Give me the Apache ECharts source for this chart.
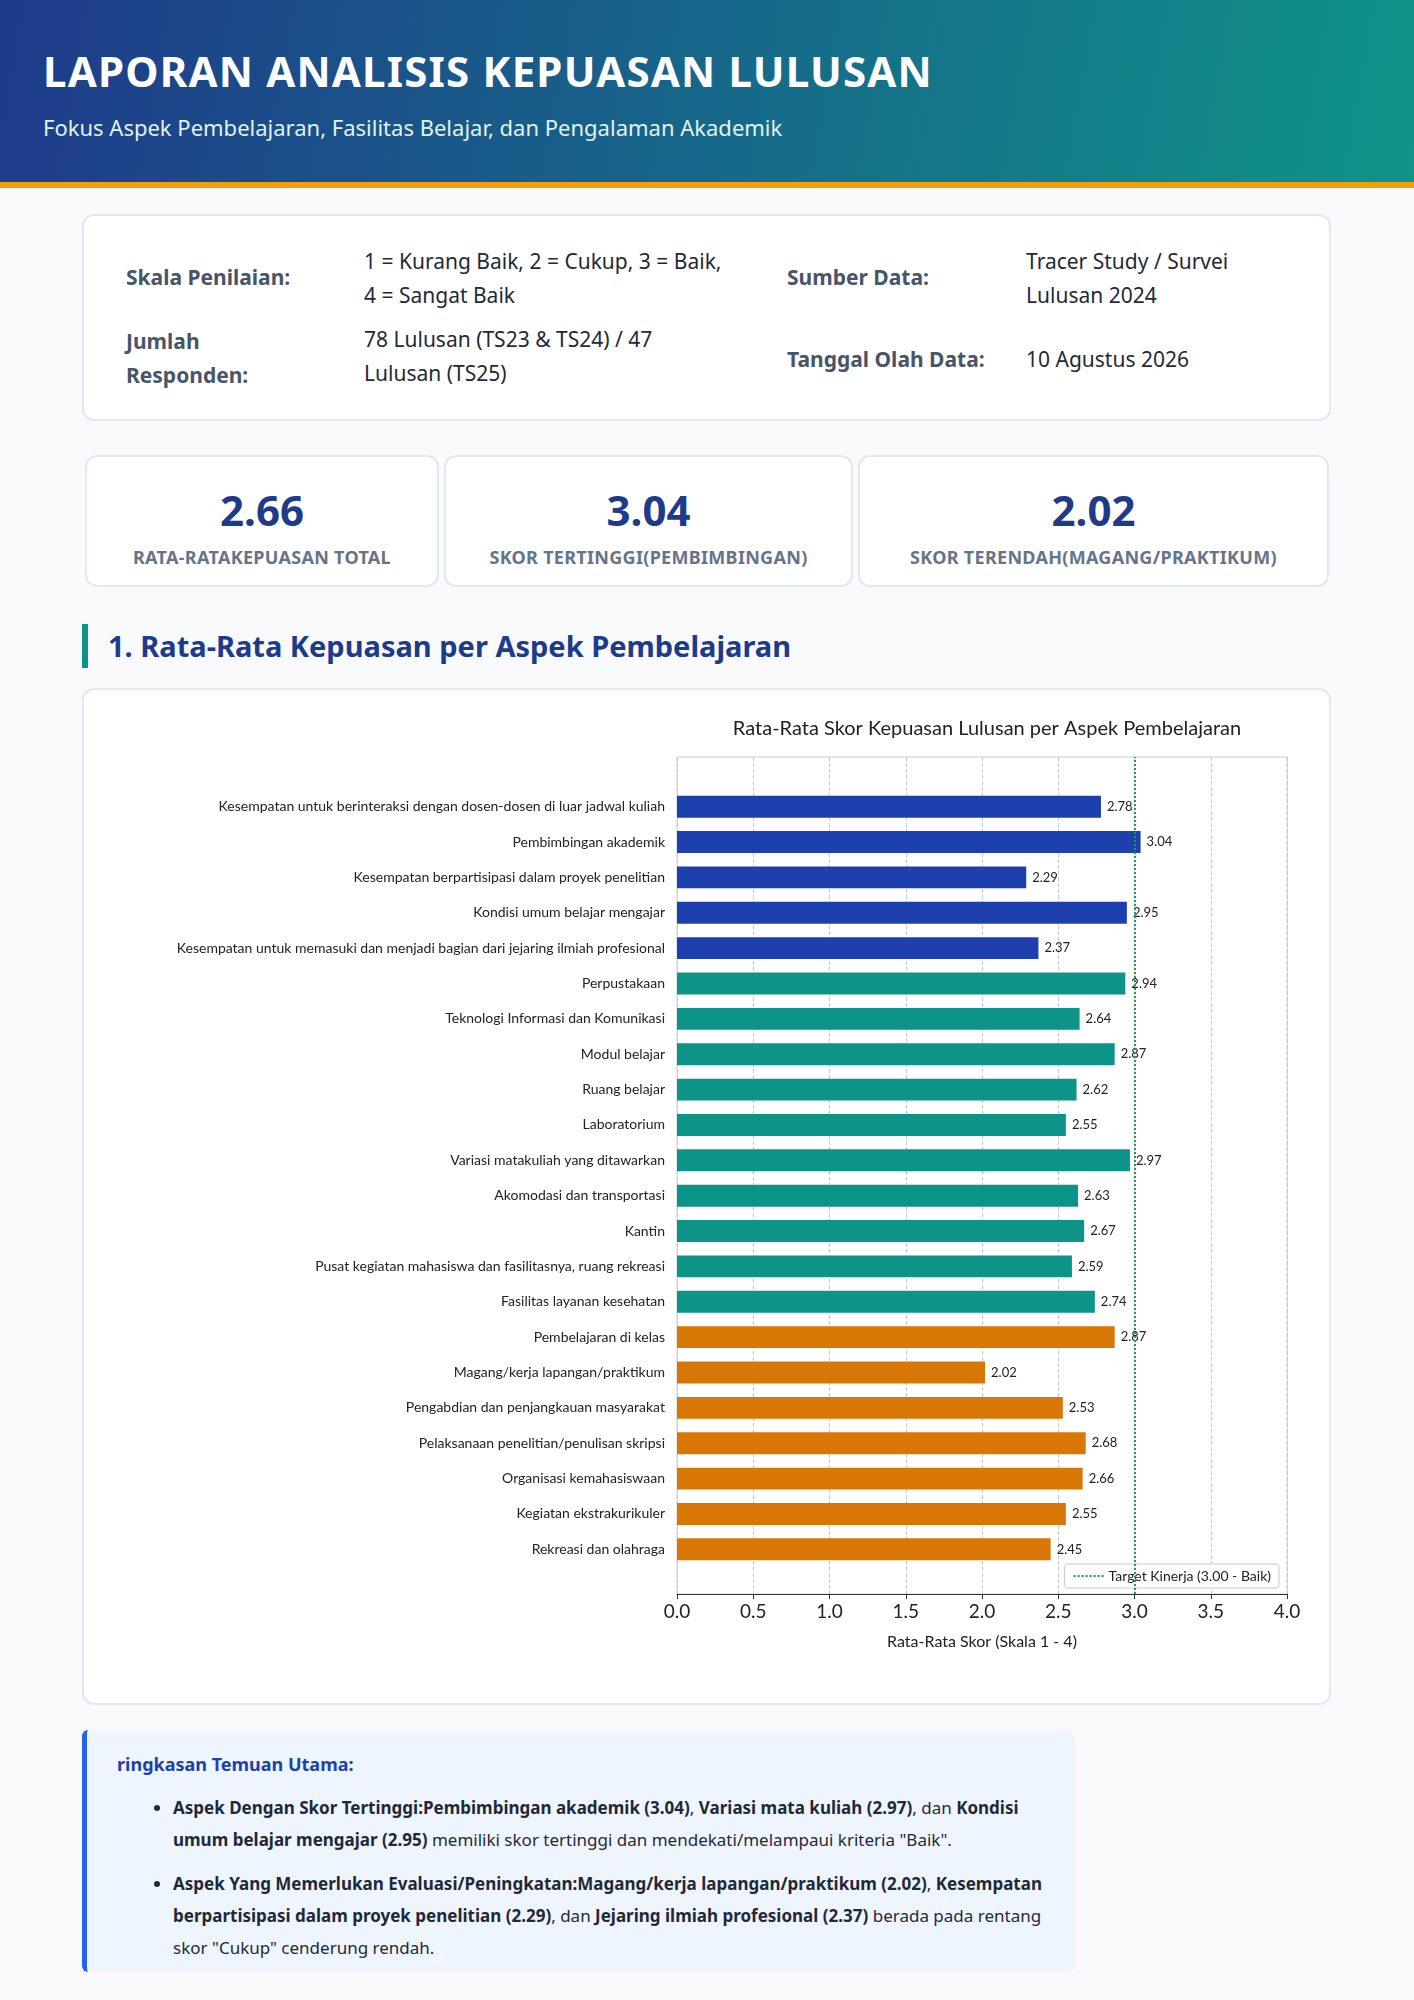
<!DOCTYPE html>
<html><head><meta charset="utf-8">
<script src="https://cdn.jsdelivr.net/npm/echarts@6/dist/echarts.min.js"></script>
<style>
body{margin:0;width:1414px;height:2000px;background:#f8fafc;font-family:"Noto Sans",Roboto,sans-serif;position:relative;color:#1f2937}
.hdr{position:absolute;left:0;top:0;width:1414px;height:182px;background:linear-gradient(100deg,#1e3a8a,#0f9488);border-bottom:6px solid #f59e0b}
.hdr h1{position:absolute;left:43px;top:42px;margin:0;color:#fff;font-size:42px;font-weight:700;letter-spacing:1.2px}
.hdr p{position:absolute;left:43px;top:112px;margin:0;color:#e0f2f1;font-size:22px}
.card{position:absolute;background:#fff;border:2px solid #e2e8f0;border-radius:12px;box-sizing:border-box}
.lbl{position:absolute;font-weight:700;color:#475569;font-size:21px;line-height:34px}
.val{position:absolute;color:#1f2937;font-size:21px;line-height:34px}
.kpi .n{position:absolute;left:0;right:0;top:24px;text-align:center;font-size:42px;font-weight:700;color:#1e3a8a}
.kpi .t{position:absolute;left:0;right:0;top:88px;text-align:center;font-size:18px;font-weight:700;color:#64748b;letter-spacing:0.3px}
.sec{position:absolute;left:82px;top:624px;height:44px;border-left:6px solid #0d9488;padding-left:20px;font-size:29px;font-weight:700;color:#1e3a8a;line-height:44px}
.sum{position:absolute;left:82px;top:1730px;width:993px;height:242px;background:#eef5fe;border-left:5px solid #2563eb;border-radius:6px;box-sizing:border-box}
.sum h3{position:absolute;left:30px;top:22px;margin:0;font-size:18px;color:#1e40af}
.sum ul{position:absolute;left:68px;top:62px;margin:0;padding:0 20px 0 18px;font-size:17px;line-height:32px;width:870px}
.sum li{margin-bottom:12px}
</style></head><body>
<div class="hdr"><h1>LAPORAN ANALISIS KEPUASAN LULUSAN</h1><p>Fokus Aspek Pembelajaran, Fasilitas Belajar, dan Pengalaman Akademik</p></div>
<div class="card" style="left:82px;top:214px;width:1249px;height:207px">
<div class="lbl" style="left:42px;top:44px">Skala Penilaian:</div>
<div class="val" style="left:280px;top:28px">1 = Kurang Baik, 2 = Cukup, 3 = Baik,<br>4 = Sangat Baik</div>
<div class="lbl" style="left:42px;top:108px">Jumlah<br>Responden:</div>
<div class="val" style="left:280px;top:106px">78 Lulusan (TS23 &amp; TS24) / 47<br>Lulusan (TS25)</div>
<div class="lbl" style="left:703px;top:44px">Sumber Data:</div>
<div class="val" style="left:942px;top:28px">Tracer Study / Survei<br>Lulusan 2024</div>
<div class="lbl" style="left:703px;top:126px">Tanggal Olah Data:</div>
<div class="val" style="left:942px;top:126px">10 Agustus 2026</div>
</div>
<div class="card kpi" style="left:85px;top:455px;width:354px;height:132px"><div class="n">2.66</div><div class="t">RATA-RATAKEPUASAN TOTAL</div></div>
<div class="card kpi" style="left:444px;top:455px;width:409px;height:132px"><div class="n">3.04</div><div class="t">SKOR TERTINGGI(PEMBIMBINGAN)</div></div>
<div class="card kpi" style="left:858px;top:455px;width:471px;height:132px"><div class="n">2.02</div><div class="t">SKOR TERENDAH(MAGANG/PRAKTIKUM)</div></div>
<div class="sec">1. Rata-Rata Kepuasan per Aspek Pembelajaran</div>
<div class="card" style="left:82px;top:688px;width:1249px;height:1017px"></div>
<div id="chart" style="position:absolute;left:82px;top:688px;width:1249px;height:1017px"></div>
<div class="sum"><h3>ringkasan Temuan Utama:</h3>
<ul>
<li><b>Aspek Dengan Skor Tertinggi:Pembimbingan akademik (3.04)</b>, <b>Variasi mata kuliah (2.97)</b>, dan <b>Kondisi umum belajar mengajar (2.95)</b> memiliki skor tertinggi dan mendekati/melampaui kriteria "Baik".</li>
<li><b>Aspek Yang Memerlukan Evaluasi/Peningkatan:Magang/kerja lapangan/praktikum (2.02)</b>, <b>Kesempatan berpartisipasi dalam proyek penelitian (2.29)</b>, dan <b>Jejaring ilmiah profesional (2.37)</b> berada pada rentang skor "Cukup" cenderung rendah.</li>
</ul></div>
<script>
var categories = ['Kesempatan untuk berinteraksi dengan dosen-dosen di luar jadwal kuliah','Pembimbingan akademik','Kesempatan berpartisipasi dalam proyek penelitian','Kondisi umum belajar mengajar','Kesempatan untuk memasuki dan menjadi bagian dari jejaring ilmiah profesional','Perpustakaan','Teknologi Informasi dan Komunikasi','Modul belajar','Ruang belajar','Laboratorium','Variasi matakuliah yang ditawarkan','Akomodasi dan transportasi','Kantin','Pusat kegiatan mahasiswa dan fasilitasnya, ruang rekreasi','Fasilitas layanan kesehatan','Pembelajaran di kelas','Magang/kerja lapangan/praktikum','Pengabdian dan penjangkauan masyarakat','Pelaksanaan penelitian/penulisan skripsi','Organisasi kemahasiswaan','Kegiatan ekstrakurikuler','Rekreasi dan olahraga'];
var scores = [2.78,3.04,2.29,2.95,2.37,2.94,2.64,2.87,2.62,2.55,2.97,2.63,2.67,2.59,2.74,2.87,2.02,2.53,2.68,2.66,2.55,2.45];
var groups = ['a','a','a','a','a','b','b','b','b','b','b','b','b','b','b','c','c','c','c','c','c','c'];
var groupColors = {a:'#1e40af', b:'#0d9488', c:'#d97706'};
var targetValue = 3.0;
var xTicks = [0,0.5,1,1.5,2,2.5,3,3.5,4];

var chart = echarts.init(document.getElementById('chart'));
var font = 'Lato, "Noto Sans", sans-serif';
chart.setOption({
  textStyle: {fontFamily: font},
  title: {text: 'Rata-Rata Skor Kepuasan Lulusan per Aspek Pembelajaran', left: 900, top: 26, textAlign: 'center',
    textStyle: {fontSize: 20, fontWeight: 'normal', color: '#222', fontFamily: font}},
  grid: [
    {left: 595, right: 44, top: 69, bottom: 111, show: true, borderColor: '#ccc', borderWidth: 1},
    {left: 595, right: 44, top: 101, bottom: 138}
  ],
  legend: {right: 52, bottom: 117, orient: 'vertical', data: ['Target Kinerja (3.00 - Baik)'],
    borderColor: '#ccc', borderWidth: 1, borderRadius: 3, padding: [5, 8], itemWidth: 30,
    itemStyle: {opacity: 0},
    textStyle: {fontSize: 14, color: '#222'}, backgroundColor: '#fff'},
  xAxis: [{gridIndex: 0, type: 'value', min: 0, max: 4, interval: 0.5,
    name: 'Rata-Rata Skor (Skala 1 - 4)', nameLocation: 'middle', nameGap: 40,
    nameTextStyle: {fontSize: 16, color: '#222'},
    axisLine: {show: true, lineStyle: {color: '#333'}}, axisTick: {show: true, lineStyle: {color: '#333'}},
    axisLabel: {fontSize: 19, color: '#222', formatter: function (v) { return xTicks.indexOf(v) >= 0 ? v.toFixed(1) : ''; }},
    splitLine: {show: true, lineStyle: {type: 'dashed', color: '#c8ccd2'}}},
    {gridIndex: 1, type: 'value', min: 0, max: 4, show: false}],
  yAxis: [{gridIndex: 0, type: 'value', min: 0, max: 1, show: false},
    {gridIndex: 1, type: 'category', data: categories, inverse: true,
    axisLine: {show: false}, axisTick: {show: false},
    axisLabel: {fontSize: 14, color: '#222', margin: 12}}],
  series: [{
    type: 'bar', xAxisIndex: 1, yAxisIndex: 1, barWidth: '62%', z: 3,
    data: scores.map(function (v, i) { return {value: v, itemStyle: {color: groupColors[groups[i]]}}; }),
    label: {show: true, position: 'right', fontSize: 13, color: '#222', distance: 6}
  }, {
    name: 'Target Kinerja (3.00 - Baik)', type: 'line', xAxisIndex: 0, yAxisIndex: 0, data: [],
    itemStyle: {color: '#16a34a'}, lineStyle: {type: 'dotted', width: 2, color: '#16a34a'}, symbol: 'none',
    markLine: {silent: true, symbol: 'none', label: {show: false}, z: 5,
      lineStyle: {type: 'dotted', width: 2, color: '#16a34a'}, data: [{xAxis: targetValue}]}
  }]
});
</script>
</body></html>
